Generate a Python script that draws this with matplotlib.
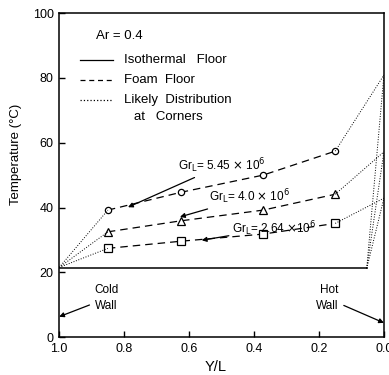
import matplotlib
matplotlib.use("Agg")
import matplotlib.pyplot as plt

plt.rcParams['font.family'] = ['Liberation Sans', 'DejaVu Sans']

# Foam-floor temperature profiles, Ar = 0.4
y_pos = [0.85, 0.625, 0.372, 0.15]
t_high = [39.2, 44.7, 50.0, 57.4]   # Gr_L = 5.45e6
t_mid = [32.5, 35.9, 39.2, 44.1]    # Gr_L = 4.0e6
t_low = [27.4, 29.6, 31.8, 35.1]    # Gr_L = 2.64e6

# Wall / corner values
t_cold_corner = 21.5
t_hot_wall = [80.9, 57.2, 42.9]
t_iso_floor = 21.2
iso_floor_end = 0.053

fig = plt.figure(figsize=(3.89, 3.75), dpi=100)
ax = fig.add_axes([0.152, 0.101, 0.835, 0.864])
ax.set_xlim(1.0, 0.0)
ax.set_ylim(0, 100)

lw = 0.9
# isothermal floor
ax.plot([1.0, iso_floor_end], [t_iso_floor, t_iso_floor], color='black', lw=1.1)

series = [(t_high, 'o', 4.5), (t_mid, '^', 5.5), (t_low, 's', 5.5)]
for (t, m, ms), tw in zip(series, t_hot_wall):
    ax.plot(y_pos, t, color='black', lw=lw, ls=(0, (6, 4)), marker=m, ms=ms,
            mfc='white', mec='black', mew=0.9)
    # likely corner distributions
    ax.plot([1.0, y_pos[0]], [t_cold_corner, t[0]], color='black', lw=0.7, ls=':')
    ax.plot([y_pos[-1], 0.0], [t[-1], tw], color='black', lw=0.7, ls=':')
    ax.plot([iso_floor_end, 0.0], [t_iso_floor, tw], color='black', lw=0.7, ls=':')

# Grashof labels with leaders
labels = [
    (r'Gr$_{\rm L}$= 5.45 $\times$ 10$^6$', (0.634, 53.0), (0.788, 40.1)),
    (r'Gr$_{\rm L}$= 4.0 $\times$ 10$^6$', (0.538, 43.3), (0.628, 37.1)),
    (r'Gr$_{\rm L}$= 2.64 $\times$10$^6$', (0.469, 33.6), (0.561, 29.9)),
]
for txt, xy_text, xy_arrow in labels:
    ax.annotate(txt, xy=xy_arrow, xytext=xy_text, fontsize=8.5, va='center', ha='left',
                arrowprops=dict(arrowstyle='-|>', color='black', lw=0.9,
                                mutation_scale=7, shrinkA=0, shrinkB=0))

# wall labels
ax.annotate('Cold\nWall', xy=(1.0, 6.3), xytext=(0.89, 12.0), fontsize=8.5,
            ha='left', va='center', linespacing=1.4,
            arrowprops=dict(arrowstyle='-|>', color='black', lw=0.9, mutation_scale=7,
                            shrinkA=2, shrinkB=0))
ax.annotate('Hot\nWall', xy=(0.0, 4.4), xytext=(0.14, 12.0), fontsize=8.5,
            ha='right', va='center', linespacing=1.4,
            arrowprops=dict(arrowstyle='-|>', color='black', lw=0.9, mutation_scale=7,
                            shrinkA=2, shrinkB=0))

# legend block
ax.text(0.885, 93.0, 'Ar = 0.4', fontsize=9.5, ha='left', va='center')
leg_x0, leg_x1, leg_tx = 0.935, 0.835, 0.80
rows = [('Isothermal   Floor', '-', 85.5), ('Foam  Floor', (0, (4, 3)), 79.3),
        ('Likely  Distribution', ':', 73.1)]
for txt, ls, yv in rows:
    ax.plot([leg_x0, leg_x1], [yv, yv], color='black', lw=0.9, ls=ls)
    ax.text(leg_tx, yv, txt, fontsize=9.5, ha='left', va='center')
ax.text(0.77, 67.9, 'at   Corners', fontsize=9.5, ha='left', va='center')

ax.set_xticks([1.0, 0.8, 0.6, 0.4, 0.2, 0.0])
ax.set_xticklabels(['1.0', '0.8', '0.6', '0.4', '0.2', '0.0'])
ax.set_yticks([0, 20, 40, 60, 80, 100])
ax.tick_params(direction='in', length=4, width=1, labelsize=9, pad=4)
for s in ax.spines.values():
    s.set_linewidth(1.1)
ax.set_xlabel('Y/L', fontsize=10.5)
ax.xaxis.set_label_coords(0.483, -0.072)
ax.set_ylabel('Temperature (°C)', fontsize=9.5)
ax.yaxis.set_label_coords(-0.115, 0.565)

fig.savefig('out.png', dpi=100)
